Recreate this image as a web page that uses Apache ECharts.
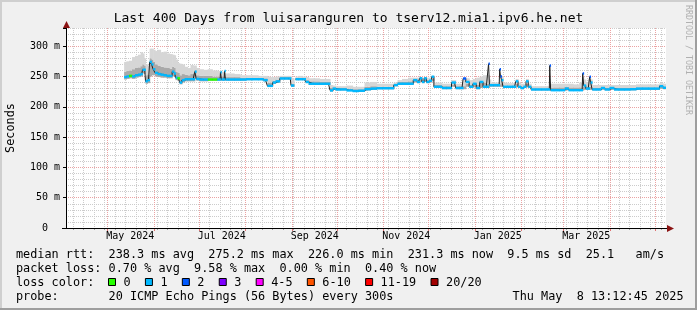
<!DOCTYPE html>
<html>
<head>
<meta charset="utf-8">
<script src="https://cdn.jsdelivr.net/npm/echarts@6/dist/echarts.min.js"></script>
<style>
html,body{margin:0;padding:0;background:#f0f0f0;}
#chart{width:697px;height:310px;}
</style>
</head>
<body>
<div id="chart"></div>
<script>
// ---------------- data ----------------
const titleText = 'Last 400 Days from luisaranguren to tserv12.mia1.ipv6.he.net';
const yAxisName = 'Seconds';
const watermark = 'RRDTOOL / TOBI OETIKER';
const endTime = Date.UTC(2025, 4, 8, 13, 12, 45);
const spanDays = 400;
const yTicks = [0, 50, 100, 150, 200, 250, 300];
const monthLabelDates = ['2024-05-01', '2024-07-01', '2024-09-01', '2024-11-01', '2025-01-01', '2025-03-01'];
const monthLabels = ['May 2024', 'Jul 2024', 'Sep 2024', 'Nov 2024', 'Jan 2025', 'Mar 2025'];

// sample positions (days after the start of the 400-day window)
const days = [39.5,41,43,45,47,49,50.5,51.5,52.5,53.5,
  55,56.5,57.5,58.7,60,62,64,66,68,70,
  71.5,72.5,73.5,75,76.5,78,80,82,84,85.5,
  86.2,87.5,90,93,96,99,102.7,103.3,103.9,105.4,
  106,106.6,110,114,118,122,126,130,133,135.5,
  137,138.5,141,144,147,149.5,150.5,151.5,152.5,153.5,
  156,159,160.5,163,167,171,175,177,178.5,181,
  185,189,193,197,201,205,209,213,217,220,
  222,226,230,233,235,236.5,238,239.5,241,243,
  244.5,246,249,252,255,259,260.5,264,265.5,267.5,
  270,272.5,274.5,277,279,281.4,282,282.6,283.7,286,
  288.8,289.4,290,290.8,292,296,299,300.7,302,304,
  306,307.3,309,311,315,319,322.2,322.8,323.4,327,
  331,334,336,340,344.1,344.8,345.5,347.5,348.8,349.4,
  350.1,351.5,355,358.2,360,364.7,366,370,374,378,
  382,386,390,394,397.3,398.5,399.5];

// median rtt (ms)
const median = [249,250,251,250,252,253,254,261,261,242,
  244,274,270,262,256,254,253,252,251,251,
  258,255,248,247,240,244,245.5,245.5,245.5,245.5,
  258,246,245,245,245,245,245,257,245,245,
  259,245,245,245,245,245.5,245.5,245.5,244,234.5,
  234.5,240,242,246.7,246.7,246.7,235,235,null,245.5,
  245.5,245.5,241,238,238,238,238,227,230,228.6,
  228.6,227,226,226.5,229,230,230.6,230.6,230.6,235.7,
  238,238,238,244,241,247,241,247,241,243,
  249.6,233,233,231,231,240,231,231,246.7,241,
  233,238,231,241,233,233,271,235.7,235.7,235.7,
  235.7,262,250,244,233,233,233,242,233,231,
  233,242,233,228.6,228.6,228.6,228.6,268,227.4,227.4,
  227.4,230,227.4,227.4,227.4,255,235,230,230,249.6,
  240,228.6,228.6,231,228.6,231,228.6,228.6,228.6,229,
  230,230,230,230,234,231.3,231.3];

// loss colour bucket index per sample
const lossBucket = [1,1,0,1,1,1,1,1,1,1,
  1,1,1,1,1,1,1,1,1,1,
  1,1,1,0,1,1,1,1,1,1,
  1,1,1,1,0,0,1,1,1,1,
  1,1,1,1,1,1,1,1,1,1,
  1,1,1,1,1,1,1,1,null,1,
  1,1,1,1,1,1,1,1,1,1,
  1,1,1,1,1,1,1,1,1,1,
  1,1,1,1,1,1,1,1,1,1,
  1,1,1,1,1,1,1,1,2,1,
  1,1,1,1,1,1,2,1,1,1,
  1,2,2,1,1,1,1,1,1,1,
  1,1,1,1,1,1,1,2,1,1,
  1,1,1,1,1,2,1,1,1,2,
  1,1,1,1,1,1,1,1,1,1,
  1,1,1,1,1,1,1];

// smoke: lower edge, inner (darker) band top, outer (light) band top (ms)
const smokeLow = [245,246,247,246,248,249,250,255,254,238,
  239,250,252,252,250,249,248,248,247,247,
  250,249,244,243,237,240,242,242,242,242,
  246,243,242,242,243,243,243,243,243,243,
  243,243,243,243,243,244,244,244,242,233,
  233,238,240,245,245,245,233,233,null,244,
  244,244,239,236,236,236,236,225,228,227,
  227,226,225,225,227,228,229,229,229,234,
  236,236,236,240,239,241,239,241,239,240,
  242,231,231,229,229,233,229,229,229,233,
  231,232,229,231,231,231,231,233,233,233,
  233,233,233,233,231,231,231,232,231,229,
  231,232,231,227,227,227,227,227,226,226,
  226,227,226,226,226,227,228,228,228,228,
  228,227,227,228,227,228,227,227,227,227,
  228,228,228,228,230,229,229];
const smokeMid = [258,259,260,262,264,265,267,270,268,252,
  253,280,278,274,270,268,266,265,264,263,
  266,264,258,256,252,254,253,252,254,254,
  260,252,251,251,251,250,250,250,250,250,
  250,249,249,249,248,248,248,248,247,240,
  240,243,245,249,249,249,238,238,null,248,
  248,248,244,242,242,241,241,231,232,231,
  231,230,229,229,233,234,233,233,233,237,
  241,241,242,245,244,246,244,246,244,245,
  247,236,236,234,234,237,234,234,234,238,
  236,238,236,240,240,238,238,238,238,237,
  237,237,238,240,235,235,235,238,235,233,
  235,238,235,230,230,230,230,231,231,232,
  232,233,232,232,232,233,236,233,233,233,
  233,231,231,232,231,232,231,231,231,231,
  232,232,232,232,235,233,233];
const smokeHigh = [274,275,276,282,284,286,290,288,280,270,
  268,296,296,294,292,294,290,291,288,287,
  286,285,278,272,271,270,266,264,269,268,
  268,264,262,261,262,260,259,260,258,257,
  256,255,255,254,252,252,252,251,251,250,
  249,249,250,251,251,251,248,247,null,250,
  251,250,249,247,247,246,246,236,235,234,
  234,235,233,233,240,241,238,238,238,240,
  244,246,248,248,248,249,248,249,248,248,
  251,240,240,238,238,244,238,238,248,247,
  244,246,248,250,252,252,252,245,240,240,
  240,244,248,250,240,239,239,246,240,238,
  238,246,238,234,234,234,234,238,238,238,
  238,238,238,237,240,250,245,240,245,250,
  245,236,236,236,236,236,236,236,236,236,
  237,237,237,237,239,238,238];

const lossLabels = ['0', '1', '2', '3', '4-5', '6-10', '11-19', '20/20'];
const lossColors = ['#26ff00', '#00b8ff', '#0059ff', '#7e00ff', '#ff00ff', '#ff5500', '#ff0000', '#a10000'];

const legendMedian = 'median rtt:  238.3 ms avg  275.2 ms max  226.0 ms min  231.3 ms now  9.5 ms sd  25.1   am/s';
const legendLoss = 'packet loss: 0.70 % avg  9.58 % max  0.00 % min  0.40 % now';
const legendLossColor = 'loss color:';
const legendProbe = 'probe:       20 ICMP Echo Pings (56 Bytes) every 300s';
const legendDate = 'Thu May  8 13:12:45 2025';

// ---------------- build ----------------
const MS = 86400000;
const startTime = endTime - spanDays * MS;
const ts = days.map(d => startTime + d * MS);
const edgeL = ts.map((t, i) => i === 0 ? t - (ts[1] - t) / 2 : (ts[i - 1] + t) / 2);
const edgeR = ts.map((t, i) => i === ts.length - 1 ? t + (t - ts[i - 1]) / 2 : (ts[i + 1] + t) / 2);
const labelTs = monthLabelDates.map(s => Date.parse(s + 'T00:00:00Z'));

const monthTs = [];
for (let y = 2024, m = 3; ; ) {
  const t = Date.UTC(y, m, 1);
  if (t > endTime) break;
  if (t >= startTime) monthTs.push(t);
  m++; if (m > 11) { m = 0; y++; }
}
const weekTs = [];
{
  const d0 = new Date(startTime);
  let t = Date.UTC(d0.getUTCFullYear(), d0.getUTCMonth(), d0.getUTCDate());
  while (t < startTime || new Date(t).getUTCDay() !== 1) t += MS;
  for (; t <= endTime; t += 7 * MS) weekTs.push(t);
}
const vgridData = weekTs.map(t => [t, 0, 0]).concat(monthTs.map(t => [t, 0, 1]));
const monthLabelData = labelTs.map((t, i) => [t, 0, i]);

const MONO = '"DejaVu Sans Mono", monospace';
const LEG_FS = 11.83;
const CHW = 7.12;
const LINE_HALF = 2.0; // half thickness of the loss-coloured median band (ms)

const smokeData = ts.map((t, i) => [t, smokeLow[i], smokeMid[i], smokeHigh[i], edgeL[i], edgeR[i]]);
const lossData = ts.map((t, i) => [t, median[i], lossBucket[i], edgeL[i], edgeR[i]]);
const medianData = ts.map((t, i) => [t, median[i]]);

// legend colour boxes
const lossLegend = [];
{
  let x = 108.5;
  lossLabels.forEach((lab, i) => {
    lossLegend.push({ type: 'rect', shape: { x: x, y: 278.5, width: 7, height: 7 },
      style: { fill: lossColors[i], stroke: '#000', lineWidth: 1 }, z: 10 });
    lossLegend.push({ type: 'text', x: x + 15, y: 282.5,
      style: { text: lab, fontFamily: MONO, fontSize: LEG_FS, fill: '#000', align: 'left', verticalAlign: 'middle' }, z: 10 });
    x += 15 + lab.length * CHW + 14.8;
  });
}

function txt(text, x, y, opts) {
  return Object.assign({ type: 'text', x: x, y: y, z: 10,
    style: Object.assign({ text: text, fontFamily: MONO, fontSize: LEG_FS, fill: '#000', align: 'left', verticalAlign: 'middle' }, opts || {}) });
}

const chart = echarts.init(document.getElementById('chart'), null, { renderer: 'canvas', width: 697, height: 310 });

const option = {
  animation: false,
  backgroundColor: '#f0f0f0',
  grid: { left: 66, top: 28, width: 600, height: 200, show: true, backgroundColor: '#ffffff', borderWidth: 0 },
  xAxis: {
    type: 'time', min: startTime, max: endTime,
    axisLine: { show: true, lineStyle: { color: '#000', width: 1 } },
    axisTick: { show: false },
    axisLabel: { show: false },
    splitLine: { show: false }
  },
  yAxis: [
    { type: 'value', min: 0, max: 330, interval: 10, position: 'left',
      axisLine: { show: false }, axisTick: { show: false }, axisLabel: { show: false },
      splitLine: { show: true, lineStyle: { color: '#cccccc', type: [1, 1], width: 1 } } },
    { type: 'value', min: 0, max: 330, interval: 50, position: 'left',
      axisLine: { show: true, lineStyle: { color: '#000', width: 1 } },
      axisTick: { show: true, length: 3, lineStyle: { color: '#000' } },
      axisLabel: { margin: 6, fontFamily: MONO, fontSize: 10, color: '#000',
        formatter: function (v) { return v === 0 ? '0  ' : (v % 50 === 0 ? v + ' m' : ''); } },
      splitLine: { show: true, showMaxLine: false, lineStyle: { color: '#eba3a3', type: [1, 1], width: 1 } } }
  ],
  series: [
    { type: 'custom', name: 'vgrid', z: 1, silent: true, clip: false, data: vgridData, encode: { x: 0, y: 1 }, yAxisIndex: 1,
      renderItem: function (params, api) {
        const p = api.coord([api.value(0), 0]);
        const cs = params.coordSys;
        const x = Math.round(p[0]) + 0.5;
        const major = api.value(2) === 1;
        return { type: 'group', children: [
          { type: 'line', shape: { x1: x, y1: cs.y, x2: x, y2: cs.y + cs.height - 1 },
            style: { stroke: major ? '#eba3a3' : '#cccccc', lineWidth: 1, lineDash: [1, 1] } },
          { type: 'line', shape: { x1: x, y1: cs.y + cs.height + 1, x2: x, y2: cs.y + cs.height + (major ? 3 : 2) },
            style: { stroke: major ? '#e07070' : '#a0a0a0', lineWidth: 1 } }
        ] };
      } },
    { type: 'custom', name: 'monthLabels', z: 5, silent: true, clip: false, data: monthLabelData, encode: { x: 0, y: 1 }, yAxisIndex: 1,
      renderItem: function (params, api) {
        const p = api.coord([api.value(0), 0]);
        return { type: 'text', x: p[0] - 1, y: p[1] + 8.5,
          style: { text: monthLabels[api.value(2)], fontFamily: MONO, fontSize: 10, fill: '#000', align: 'left', verticalAlign: 'middle' } };
      } },
    { type: 'custom', name: 'smoke', z: 2, silent: true, data: smokeData, encode: { x: 0, y: 3 }, yAxisIndex: 1, clip: true,
      renderItem: function (params, api) {
        const lo = api.value(1), mid = api.value(2), hi = api.value(3);
        if (lo == null || isNaN(lo)) return null;
        const a = api.coord([api.value(4), lo]);
        const b = api.coord([api.value(5), mid]);
        const c = api.coord([api.value(4), hi]);
        const w = b[0] - a[0] + 0.6;
        return { type: 'group', children: [
          { type: 'rect', shape: { x: a[0], y: b[1], width: w, height: a[1] - b[1] }, style: { fill: '#a9a9a9' } },
          { type: 'rect', shape: { x: a[0], y: c[1], width: w, height: b[1] - c[1] }, style: { fill: '#d6d6d6' } }
        ] };
      } },
    { type: 'line', name: 'median', z: 3, yAxisIndex: 1, data: medianData, step: 'middle', showSymbol: false,
      silent: true, lineStyle: { color: '#202020', width: 1 } },
    { type: 'custom', name: 'loss', z: 4, silent: true, data: lossData, encode: { x: 0, y: 1 }, yAxisIndex: 1, clip: true,
      renderItem: function (params, api) {
        const med = api.value(1), bk = api.value(2);
        if (med == null || isNaN(med) || bk == null || isNaN(bk)) return null;
        const a = api.coord([api.value(3), med + LINE_HALF]);
        const b = api.coord([api.value(4), med - LINE_HALF]);
        return { type: 'rect', shape: { x: a[0], y: a[1], width: b[0] - a[0] + 0.4, height: b[1] - a[1] },
          style: { fill: lossColors[bk] } };
      } }
  ],
  graphic: [
    { type: 'rect', shape: { x: 0, y: 0, width: 697, height: 2 }, style: { fill: '#cfcfcf' }, z: 9 },
    { type: 'rect', shape: { x: 0, y: 0, width: 2, height: 310 }, style: { fill: '#cfcfcf' }, z: 9 },
    { type: 'rect', shape: { x: 0, y: 308, width: 697, height: 2 }, style: { fill: '#9e9e9e' }, z: 9 },
    { type: 'rect', shape: { x: 695, y: 0, width: 2, height: 310 }, style: { fill: '#9e9e9e' }, z: 9 },
    { type: 'line', shape: { x1: 66.5, y1: 28, x2: 66.5, y2: 24 }, style: { stroke: '#000', lineWidth: 1 }, z: 10 },
    { type: 'polygon', shape: { points: [[63, 28], [70, 28], [66.5, 21]] }, style: { fill: '#8b1414' }, z: 10 },
    { type: 'line', shape: { x1: 62, y1: 228.5, x2: 66, y2: 228.5 }, style: { stroke: '#000', lineWidth: 1 }, z: 10 },
    { type: 'line', shape: { x1: 666, y1: 228.5, x2: 668, y2: 228.5 }, style: { stroke: '#000', lineWidth: 1 }, z: 10 },
    { type: 'polygon', shape: { points: [[667, 225], [667, 232], [674, 228.5]] }, style: { fill: '#8b1414' }, z: 10 },
    txt(titleText, 348.5, 19, { fontSize: 13, align: 'center' }),
    Object.assign(txt(yAxisName, 10.5, 128, { align: 'center' }), { rotation: Math.PI / 2 }),
    Object.assign(txt(watermark, 688.5, 60, { fontSize: 8.3, fill: '#b0b0b0', align: 'center' }), { rotation: -Math.PI / 2 }),
    txt(legendMedian, 16, 254.5),
    txt(legendLoss, 16, 268.5),
    txt(legendLossColor, 16, 282.5),
    txt(legendProbe, 16, 296.5),
    txt(legendDate, 683.5, 296.5, { align: 'right' })
  ].concat(lossLegend)
};

chart.setOption(option);
</script>
</body>
</html>
